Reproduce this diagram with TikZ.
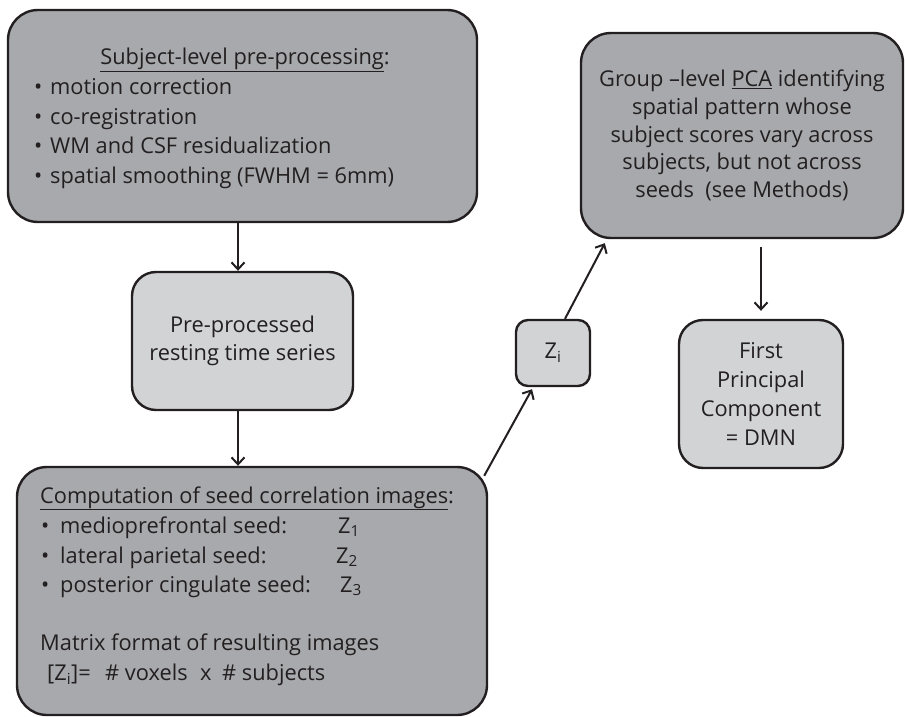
\documentclass[tikz,border=0pt]{standalone}
\usepackage{fontspec}
\setmainfont{Open Sans}
\usetikzlibrary{arrows.meta}
\definecolor{dk}{HTML}{A7A9AC}
\definecolor{lt}{HTML}{D1D3D4}
\definecolor{ink}{HTML}{231F20}
\begin{document}
\begin{tikzpicture}[x=1pt,y=-1pt,
  box/.style={draw=ink, line width=2.4pt, inner sep=0pt, text=ink,
    font=\fontsize{21.8}{28.5}\selectfont, align=center},
  dark/.style={box, fill=dk},
  light/.style={box, fill=lt},
  txt/.style={text=ink, font=\fontsize{21.8}{28.5}\selectfont, inner sep=0pt},
  arr/.style={draw=ink, line width=2pt, -{Straight Barb[length=7pt,width=13pt,line width=2pt]}}]
\useasboundingbox (0,0) rectangle (905,717);

% boxes
\node[dark, rounded corners=30pt, minimum width=469pt, minimum height=212pt] (pre) at (242.5,116) {};
\node[light, rounded corners=24pt, minimum width=221pt, minimum height=138pt] (ts) at (242.5,341)
  {Pre-processed\\resting time series};
\node[dark, rounded corners=30pt, minimum width=470pt, minimum height=248pt] (corr) at (252,591) {};
\node[light, rounded corners=12pt, minimum width=74pt, minimum height=66pt] (zi) at (553,353) {Z\textsubscript{i}};
\node[dark, rounded corners=30pt, minimum width=322pt, minimum height=205pt, font=\fontsize{21.8}{27.8}\selectfont] (pca) at (742,135.5)
  {Group \textendash level \underline{PCA} identifying\\spatial pattern whose\\subject scores vary across\\subjects, but not across\\seeds\ \ (see Methods)};
\node[light, rounded corners=24pt, minimum width=164pt, minimum height=148pt, font=\fontsize{21.8}{29}\selectfont] (dmn) at (761,394)
  {First\\Principal\\Component\\= DMN};

% text of box 1
\node[txt, anchor=base] (t1) at (245,65) {\underline{Subject-level pre-processing}:};
\node[txt, anchor=base west] (t1a) at (34,95)  {\makebox[16pt][l]{•}motion correction};
\node[txt, anchor=base west] (t1b) at (34,124) {\makebox[16pt][l]{•}co-registration};
\node[txt, anchor=base west] (t1c) at (34,153) {\makebox[16pt][l]{•}WM and CSF residualization};
\node[txt, anchor=base west] (t1d) at (34,183) {\makebox[16pt][l]{•}spatial smoothing (FWHM = 6mm)};

% text of box 3
\node[txt, anchor=base west] (t3) at (40,503) {\underline{Computation of seed correlation images}:};
\node[txt, anchor=base west] (t3a) at (41,533) {\makebox[19pt][l]{•}mediopref\/rontal seed:};
\node[txt, anchor=base west] (t3b) at (41,563) {\makebox[19pt][l]{•}lateral parietal seed:};
\node[txt, anchor=base west] (t3c) at (41,592) {\makebox[19pt][l]{•}posterior cingulate seed:};
\node[txt, anchor=base west] (z1) at (338,533) {Z\textsubscript{1}};
\node[txt, anchor=base west] (z2) at (336,563) {Z\textsubscript{2}};
\node[txt, anchor=base west] (z3) at (340,592) {Z\textsubscript{3}};
\node[txt, anchor=base west] (t3d) at (40,650) {Matrix format of resulting images};
\node[txt, anchor=base west] (t3e) at (47,680)
  {\makebox[58pt][l]{[Z\textsubscript{i}]=}\makebox[95pt][l]{\# voxels}\makebox[22pt][l]{x}\# subjects};

% connectors
\draw[arr] ([xshift=-4.5pt]pre.south) -- ([xshift=-4.5pt]ts.north);
\draw[arr] ([xshift=-4.5pt]ts.south) -- ([xshift=-4.5pt]ts.south |- corr.north);
\coordinate (c3) at ([shift={(-4pt,-10pt)}]corr.north east);
\draw[arr] (c3) -- ([shift={(-21pt,-2pt)}]zi.south);
\draw[arr] ([xshift=12pt]zi.north) -- ([shift={(25pt,-4pt)}]pca.south west);
\draw[arr, shorten <=8pt, shorten >=8pt] (dmn.north |- pca.south) -- (dmn.north);
\end{tikzpicture}
\end{document}
